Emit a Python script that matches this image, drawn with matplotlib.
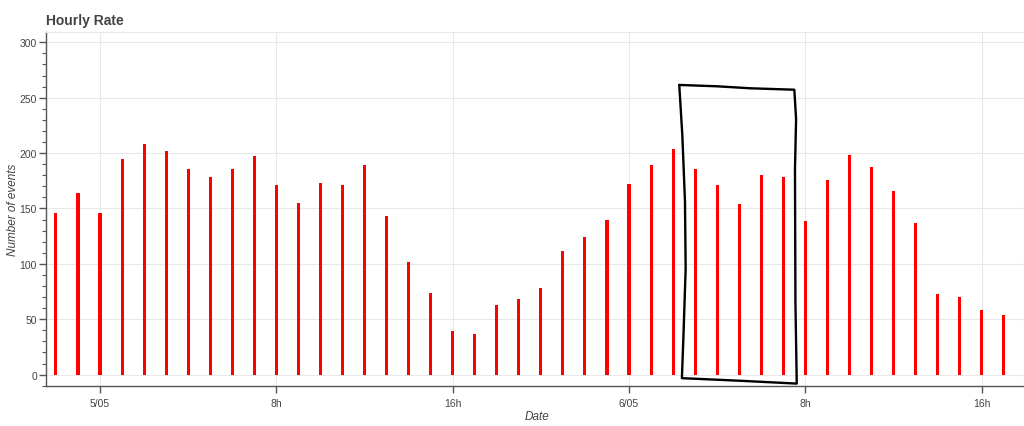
import matplotlib
matplotlib.use("Agg")
import matplotlib.pyplot as plt
import matplotlib.dates as mdates
from matplotlib.ticker import MultipleLocator, FuncFormatter
import pandas as pd

# hourly event counts, starting 4 May 22:00
start = "2019-05-04 22:00"
counts = [146, 164, 146, 195, 208, 202, 186, 178, 186, 197, 171, 155,
          173, 171, 189, 143, 102, 74, 39, 37, 63, 68, 78, 112,
          124, 140, 172, 189, 204, 186, 171, 154, 180, 178, 139, 176,
          198, 187, 166, 137, 73, 70, 58, 54]
times = pd.date_range(start, periods=len(counts), freq="h")

# hand drawn box (hours after 5 May 00:00, events)
box_h = [26.28, 26.42, 26.54, 26.57, 26.47, 26.40,
         29.0, 31.61, 31.55, 31.53, 31.58, 31.50, 29.49, 27.98, 26.28]
box_v = [261.5, 215.7, 155.9, 95.4, 35.2, -3.2,
         -5.5, -8.1, 65.3, 185.7, 230.8, 257.2, 258.5, 260.3, 261.5]

grey = "#444444"
plt.rcParams["font.family"] = ["Liberation Sans", "DejaVu Sans"]

fig = plt.figure(figsize=(10.24, 4.27), dpi=100)
ax = fig.add_axes([46 / 1024, 1 - 386.7 / 427, 1 - 46 / 1024, (386.7 - 33) / 427])

ax.bar(times, counts, width=0.14 / 24, color="#ff0000", zorder=3)

t0 = mdates.date2num(pd.Timestamp("2019-05-05"))
ax.plot([t0 + h / 24 for h in box_h], box_v, color="black", lw=1.7,
        solid_joinstyle="round", solid_capstyle="round", zorder=4)

ax.set_xlim(t0 - 2.45 / 24, t0 + 41.92 / 24)
ax.set_ylim(-10, 309.3)

ax.xaxis.set_major_locator(mdates.HourLocator(byhour=[0, 8, 16]))


def fmt_date(x, pos):
    d = mdates.num2date(x)
    if d.hour == 0:
        return "%d/%02d" % (d.day, d.month)
    return "%dh" % d.hour


ax.xaxis.set_major_formatter(FuncFormatter(fmt_date))
ax.yaxis.set_major_locator(MultipleLocator(50))
ax.yaxis.set_minor_locator(MultipleLocator(10))

ax.grid(True, which="major", color="#e8e8e8", lw=0.8, zorder=0)
ax.set_axisbelow(True)

for s in ["top", "right"]:
    ax.spines[s].set_color("#e8e8e8")
    ax.spines[s].set_linewidth(0.8)
for s in ["left", "bottom"]:
    ax.spines[s].set_color("#555555")
    ax.spines[s].set_linewidth(1.0)

ax.tick_params(axis="both", which="major", length=5, width=1, color="#555555",
               labelsize=7.5, labelcolor=grey)
ax.tick_params(axis="y", which="minor", length=3, width=0.8, color="#555555")
ax.tick_params(axis="x", pad=4)
ax.tick_params(axis="y", pad=1.5)

ax.set_xlabel("Date", fontsize=8.5, style="italic", color=grey)
ax.set_ylabel("Number of events", fontsize=8.5, style="italic", color=grey)
ax.xaxis.label.set_va("center")
ax.yaxis.label.set_va("center")
ax.xaxis.set_label_coords(0.502, -0.085)
ax.yaxis.set_label_coords(-0.034, 0.5)

fig.text(46 / 1024, 1 - 21.5 / 427, "Hourly Rate", fontsize=10, fontweight="bold",
         color=grey, va="center", ha="left")

fig.savefig("out.png", dpi=100)
